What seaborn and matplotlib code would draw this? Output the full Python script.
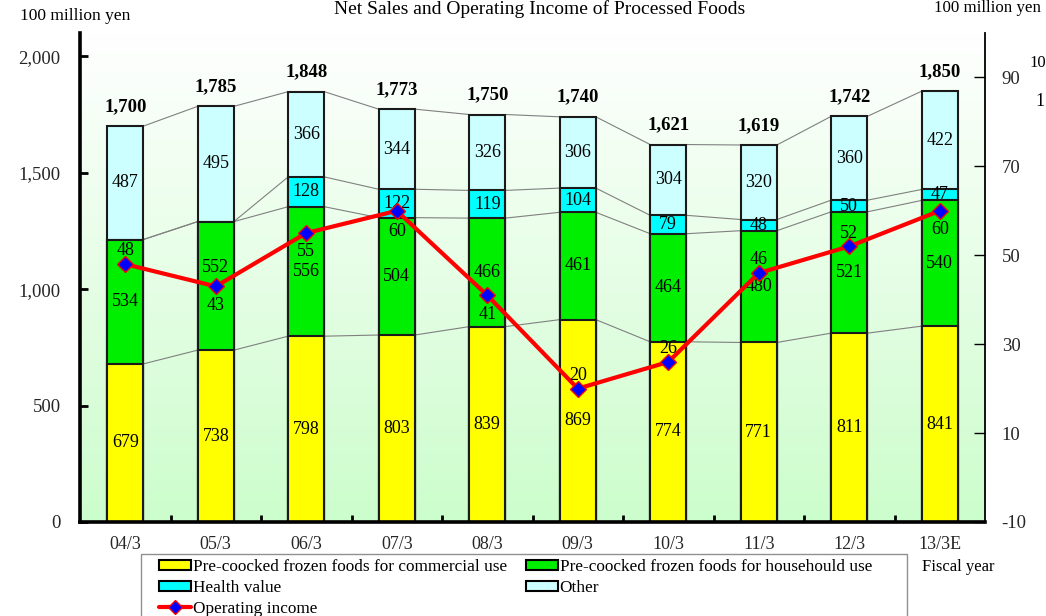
import numpy as np
import pandas as pd
import matplotlib
matplotlib.use("Agg")
import matplotlib.pyplot as plt
from matplotlib.colors import LinearSegmentedColormap
from matplotlib.patches import Patch, Rectangle
from matplotlib.lines import Line2D
import seaborn as sns

# ---------------- data ----------------
years = ["04/3", "05/3", "06/3", "07/3", "08/3", "09/3", "10/3", "11/3", "12/3", "13/3E"]
commercial = [679, 738, 798, 803, 839, 869, 774, 771, 811, 841]
household = [534, 552, 556, 504, 466, 461, 464, 480, 521, 540]
health = [0, 0, 128, 122, 119, 104, 79, 48, 50, 47]
other = [487, 495, 366, 344, 326, 306, 304, 320, 360, 422]
totals = [1700, 1785, 1848, 1773, 1750, 1740, 1621, 1619, 1742, 1850]
op_income = [48, 43, 55, 60, 41, 20, 26, 46, 52, 60]
left_ticks = [0, 500, 1000, 1500, 2000]
left_tick_labels = ["0", "500", "1,000", "1,500", "2,000"]
right_ticks = [-10, 10, 30, 50, 70, 90]

# ------------- styling ----------------
sns.set_theme(style="white")
plt.rcParams["font.family"] = ["Liberation Serif", "DejaVu Serif"]
plt.rcParams["text.color"] = "black"

c_comm = "#FFFF00"
c_house = "#00EE00"
c_health = "#00FFFF"
c_other = "#CCFFFF"

fig = plt.figure(figsize=(10.46, 6.16), dpi=100)
ax = fig.add_axes([80 / 1046, 1 - 522 / 616, 905 / 1046, 489 / 616])

n = len(years)
xpos = np.arange(n)
lvl1 = np.array(commercial)
lvl2 = lvl1 + np.array(household)
lvl3 = lvl2 + np.array(health)
lvl4 = lvl3 + np.array(other)

# gradient background
cmap = LinearSegmentedColormap.from_list("bg", ["#FFFFFF", "#CCFDCC"])
grad = np.linspace(0, 1, 256).reshape(-1, 1)
ax.imshow(grad, extent=[-0.5, n - 0.5, 0, 2100], aspect="auto", cmap=cmap,
          origin="upper", zorder=0)

df = pd.DataFrame({"year": years, "l1": lvl1, "l2": lvl2, "l3": lvl3, "l4": lvl4})
bw = 0.4
for col, colr in [("l4", c_other), ("l3", c_health), ("l2", c_house), ("l1", c_comm)]:
    sns.barplot(data=df, x="year", y=col, order=years, color=colr, saturation=1,
                width=bw, edgecolor="#1a1a1a", linewidth=1.5, ax=ax, zorder=2)

# connector lines between bars
for lev in [lvl1, lvl2, lvl3, lvl4]:
    for i in range(n - 1):
        ax.plot([i + bw / 2, i + 1 - bw / 2], [lev[i], lev[i + 1]],
                color="#808080", lw=0.8, zorder=1.5)

# value labels
fs = 13
house_label_shift = [0, 13, 0, 0, 0, 0, 0, 0, 0, 0]  # points
for i in range(n):
    ax.text(i, commercial[i] / 2, str(commercial[i]), ha="center", va="center", fontsize=fs, zorder=5)
    ax.annotate(str(household[i]), (i, lvl1[i] + household[i] / 2), xytext=(0, house_label_shift[i]),
                textcoords="offset points", ha="center", va="center", fontsize=fs, zorder=5)
    if health[i] > 0:
        ax.text(i, lvl2[i] + health[i] / 2, str(health[i]), ha="center", va="center", fontsize=fs, zorder=5)
    ax.text(i, lvl3[i] + other[i] / 2, str(other[i]), ha="center", va="center", fontsize=fs, zorder=5)
    ax.annotate(f"{totals[i]:,}", (i, lvl4[i]), xytext=(0, 8), textcoords="offset points",
                ha="center", va="bottom", fontsize=13.5, fontweight="bold", zorder=5)

ax.set_xlim(-0.5, n - 0.5)
ax.set_ylim(0, 2100)
ax.set_xlabel("")
ax.set_ylabel("")
ax.set_yticks(left_ticks)
ax.set_yticklabels(left_tick_labels, fontsize=13.5)
ax.set_xticks(xpos)
ax.set_xticklabels(years, fontsize=13)
ax.set_xticks(np.arange(0.5, n - 1, 1.0), minor=True)
ax.tick_params(axis="x", which="major", length=0, pad=10)
ax.tick_params(axis="x", which="minor", direction="in", length=5, width=2, color="black", bottom=True)
ax.tick_params(axis="y", which="major", direction="in", length=6, width=2, color="black", pad=14, left=True)
for s in ["top", "right"]:
    ax.spines[s].set_visible(False)
for s in ["left", "bottom"]:
    ax.spines[s].set_linewidth(2.6)
    ax.spines[s].set_color("black")
ax.grid(False)

# operating income on right axis
ax2 = ax.twinx()
sns.lineplot(x=xpos, y=op_income, ax=ax2, color="red", lw=3, marker="D", markersize=8,
             markerfacecolor="blue", markeredgecolor="red", markeredgewidth=1, zorder=6)
ax2.set_ylim(-10, 100)
ax2.set_xlim(-0.5, n - 0.5)
ax2.set_yticks(right_ticks)
ax2.set_yticklabels([str(t) for t in right_ticks], fontsize=13.5)
ax2.tick_params(axis="y", direction="in", length=8, width=1, color="black", pad=12, right=True)
for s in ["top", "left", "bottom"]:
    ax2.spines[s].set_visible(False)
ax2.spines["right"].set_linewidth(1.3)
ax2.spines["right"].set_color("black")
ax2.grid(False)
ax2.set_ylabel("")

label_offsets = [9.5, -13.5, -13.5, -15, -13.5, 9.5, 9.5, 9.5, 9.5, -13.5]  # points
for i in range(n):
    ax2.annotate(str(op_income[i]), (i, op_income[i]), xytext=(0, label_offsets[i]),
                 textcoords="offset points", ha="center", va="center", fontsize=fs, zorder=7)

# figure texts
fig.text(540 / 1046, 1.0, "Net Sales and Operating Income of Processed Foods",
         ha="center", va="top", fontsize=14)
fig.text(20 / 1046, 1 - 16 / 616, "100 million yen", ha="left", va="center", fontsize=12.5)
fig.text(934 / 1046, 1 - 8 / 616, "100 million yen", ha="left", va="center", fontsize=12.2)
fig.text(1029 / 1046, 1 - 63 / 616, "10", ha="left", va="center", fontsize=12)
fig.text(1035 / 1046, 1 - 102 / 616, "1", ha="left", va="center", fontsize=13)
fig.text(922 / 1046, 1 - 567 / 616, "Fiscal year", ha="left", va="center", fontsize=12)

# legend frame (extends past bottom edge as in the reference)
fig.patches.append(Rectangle((141 / 1046, -0.05), 766 / 1046, (616 - 554) / 616 + 0.05,
                             transform=fig.transFigure, facecolor="white",
                             edgecolor="#909090", linewidth=1, zorder=0))

handles = [
    Patch(facecolor=c_comm, edgecolor="black", linewidth=1.5),
    Patch(facecolor=c_health, edgecolor="black", linewidth=1.5),
    Line2D([0], [0], color="red", lw=3, marker="D", markersize=7,
           markerfacecolor="blue", markeredgecolor="red"),
    Patch(facecolor=c_house, edgecolor="black", linewidth=1.5),
    Patch(facecolor=c_other, edgecolor="black", linewidth=1.5),
]
labels = [
    "Pre-coocked frozen foods for commercial use",
    "Health value",
    "Operating income",
    "Pre-coocked frozen foods for househould use",
    "Other",
]
leg = fig.legend(handles, labels, ncol=2, loc="upper left",
                 bbox_to_anchor=(159 / 1046, 1 - 559 / 616), fontsize=12.4,
                 frameon=False, handlelength=1.86, handleheight=0.52, handletextpad=0.1,
                 labelspacing=0.28, borderpad=0, columnspacing=1.1, borderaxespad=0)

fig.savefig("out.png", dpi=100)
